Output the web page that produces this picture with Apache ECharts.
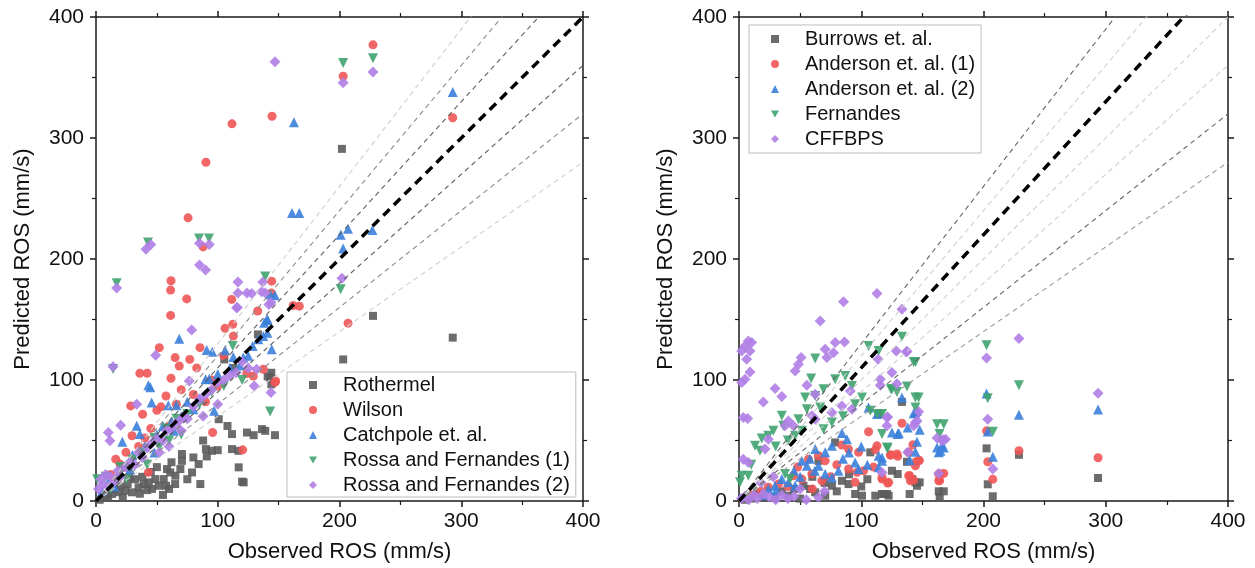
<!DOCTYPE html>
<html><head><meta charset="utf-8">
<script src="https://cdn.jsdelivr.net/npm/echarts@6/dist/echarts.min.js"></script>
<style>html,body{margin:0;padding:0;background:#fff}#c{width:1255px;height:568px}</style>
</head><body><div id="c"></div>
<script>
// ---------- data ----------
const axisTicks = [0, 100, 200, 300, 400];
const xTitle = 'Observed ROS (mm/s)';
const yTitle = 'Predicted ROS (mm/s)';

const leftNames = ['Rothermel', 'Wilson', 'Catchpole et. al.', 'Rossa and Fernandes (1)', 'Rossa and Fernandes (2)'];
const rightNames = ['Burrows et. al.', 'Anderson et. al. (1)', 'Anderson et. al. (2)', 'Fernandes', 'CFFBPS'];

const leftSlopes = [1.3, 1.2, 1.1, 0.9, 0.8, 0.7];
const leftSlopeColors = ['#cfcfcf', '#8a8a8a', '#5e5e5e', '#5e5e5e', '#8a8a8a', '#cfcfcf'];
const leftUnitSlope = 1.0;
const rightSlopes = [1.3, 1.2, 1.0, 0.9, 0.8, 0.7];
const rightSlopeColors = ['#666666', '#cfcfcf', '#cfcfcf', '#cfcfcf', '#666666', '#9a9a9a'];
const rightUnitSlope = 1.1;

const rothermel = [[202,291],[203,117],[227.5,153],[293,135],[144,106],[143,102],[144,96.5],[133,137.7],[105.4,117],[112.8,110],[141,103],[100.8,67.6],[111.7,55.3],[124,56.6],[129.5,54.4],[136.3,59.4],[139,58],[147,54.4],[111.7,42.9],[117,41.5],[90.3,42.9],[95.3,41.5],[91,36.8],[84.3,30.5],[78.9,23.6],[85.7,14],[70.6,38.8],[70.6,33.2],[69.3,26.4],[65.2,20.9],[61,23.6],[58.3,26.4],[55.6,18.1],[51.5,12.6],[57.5,12.6],[65,14],[48.7,18.1],[43.3,15.4],[39.2,14],[35,11.3],[29.6,7.2],[24,8.5],[18.6,7.2],[13.1,5.8],[7.6,3],[121.3,15.4],[117.2,27.8],[120,16],[3,1],[10,4],[15,10],[20,12],[26,14],[32,18],[38,20],[45,24],[50,28],[36,6],[42,9],[60,10],[75,18],[80,36],[88,50],[100,42],[108,62],[62,32],[55,5],[28,20],[22,3],[46,10]];
const wilson = [[144.6,318],[111.7,311.7],[90.3,280],[75.6,234],[88,210],[61.6,182],[144,172],[203,351],[227.5,377],[293,316.7],[207,147],[162,161.6],[167,161],[61.3,174.3],[74.5,167],[61.3,153.4],[111.5,166.6],[112.3,146],[106,142.7],[52,126.7],[65,118.5],[68.4,111.6],[77,117],[82.7,110],[85.4,126.7],[36,105.6],[42,105.6],[61.6,101.4],[57.5,86.8],[28.5,78.6],[53.4,77.8],[38.3,71.7],[112.8,136.3],[123.8,105.3],[129.2,103.3],[137.4,108.9],[147.6,99.2],[132.8,157],[144.3,181.7],[95.8,56.6],[120.5,42.3],[29.6,53.9],[24.6,40.2],[16.2,34.6],[19.7,30.5],[43,23.7],[147,98],[45,60],[50,75],[70,92],[80,88],[95,100],[100,95],[35,45],[40,52],[60,62],[25,28],[12,22],[66,80],[90,82],[105,120]];
const catchpole = [[162.6,313],[161,238],[167,238],[293,338],[201,220],[207,225],[227,224],[203,208.6],[68.4,134],[43,95.7],[44.6,94],[90.9,124.8],[95.5,123.4],[106,124.5],[112.8,119],[121,118.5],[128.7,128],[133.3,133.6],[137.4,136.3],[140.7,139],[140.2,149.5],[138.2,147.4],[144.3,125.4],[147,170],[90,100.6],[93,101],[97,74.5],[80,75.9],[66,79.2],[59.4,79.2],[45.7,81.4],[33.4,62.1],[21.6,48.9],[36,55.3],[141,150],[143,170.7],[10,15],[18,22],[25,30],[30,38],[40,45],[50,55],[55,62],[62,66],[70,70],[75,82],[85,85],[100,105],[110,110],[118,112],[125,120],[5,8],[15,12],[28,26],[48,40],[64,58]];
const rossa1 = [[17,180],[42.7,213.6],[84.6,217],[92.8,217],[139,185.5],[143,74],[203,362],[227.5,366],[201,175],[14,109],[112.3,128],[1,18],[8,20],[20,28],[30,34],[38,40],[48,52],[58,60],[66,68],[75,72],[85,80],[95,90],[105,95],[120,100],[60,50],[70,55],[42,30],[25,18],[12,10],[52,45]];
const rossa2 = [[147,363],[227.5,354.6],[203,345.6],[41,208],[45,212],[85,213],[93,212],[85,195],[90,191],[17,176],[116.6,172],[139,172],[116.6,181],[124,172],[128,171.5],[136,173],[137,181],[143.7,164],[116,160],[202,184],[78.6,141.3],[49,120.4],[115.5,159.7],[76.6,99.2],[33.4,80],[10.1,56.6],[11.5,49.7],[20.3,62.7],[143.7,89.6],[132,108.9],[142,162.5],[14,111],[2,10],[4,18],[6,14],[8,22],[10,12],[12,20],[15,16],[18,25],[20,20],[24,28],[28,32],[32,30],[35,40],[38,36],[42,44],[46,48],[50,52],[55,50],[58,58],[62,60],[65,64],[68,66],[72,70],[75,68],[80,78],[85,84],[90,88],[95,92],[100,98],[105,100],[110,104],[115,106],[120,115],[125,110],[130,95],[60,45],[52,40],[70,58],[88,70],[100,80]];

const burrows = [[202.5,43.5],[229,38.2],[293.7,19],[203.5,13.8],[207.6,3.9],[133.3,81.9],[137.4,32.4],[141.6,18.1],[144.3,15.4],[147.8,15.4],[145.6,12.6],[139.6,5.8],[118.3,5.8],[121,5.8],[125.1,25],[129.8,22.3],[163.4,8],[167.5,8],[164.2,3.1],[114.2,71.8],[107.4,40.2],[78.7,48.4],[65,33.2],[76,12.6],[84.2,16.7],[89.6,14],[95,5.8],[100.6,4.4],[111.5,4.4],[117,5.8],[122.4,4.4],[29.5,3],[40.4,4.4],[62.3,7.2],[70.5,4.4],[52.7,12.6],[58.2,9.9],[10,2],[20,3],[35,8],[45,10],[50,2],[80,8],[90,22],[100,12],[105,18],[60,20],[70,15],[15,6],[5,1]];
const anderson1 = [[202.5,58],[229,41.5],[203.5,32.4],[293.7,35.7],[207.6,17.9],[133.3,64.3],[124.3,38.2],[129.8,36.9],[142.3,46.5],[144.8,32.4],[147.5,33.6],[144.3,29.1],[164.8,22.3],[167.5,22.8],[164.2,16.8],[139.6,20.9],[142.9,17.3],[117,18.1],[121.6,14.8],[106,57.2],[112.9,45.6],[111.5,42.3],[129.3,38.8],[123.8,37.9],[138.8,40.2],[147,33.2],[84.2,46.2],[89.6,42.9],[97.8,40.2],[56.8,34.6],[65,37.4],[70.5,33.2],[44.5,20.9],[51.4,18.1],[59.6,22.3],[67.8,16.7],[89.6,26.4],[96.5,23.7],[101.9,25],[95,15.4],[117,19.5],[122.4,15.4],[138.8,20.9],[140.2,16.7],[163.4,22.3],[163.4,16.7],[24,11.3],[32.2,14],[10,5],[18,8],[40,12],[48,28],[75,20],[80,30],[60,10],[110,28]];
const anderson2 = [[202.5,88.8],[293.7,75.6],[203.5,57.5],[207.6,36.5],[229,71.2],[133.3,85.5],[142.9,72.6],[138,60.8],[147.8,58.8],[125.1,56.6],[129.8,55.3],[145.6,48.9],[144.3,40.7],[139.6,33.8],[162,44.3],[167.5,44.3],[163.4,40.2],[117,36],[106,77.3],[112.9,71.8],[130.7,56.1],[144.3,73.2],[145.6,74.5],[84.2,56.1],[88.3,51.1],[62.3,42.9],[70.5,40.2],[76,45.6],[51.4,33.2],[55.5,29.1],[114.2,37.4],[117,33.2],[65,29.1],[70.5,22.3],[76,19.5],[81.4,25],[35,18.1],[40.4,15.4],[45.9,12.6],[29.5,12.6],[24,9.9],[95,31.9],[97.8,26.4],[114.2,27.8],[166,45.6],[164.8,41.5],[50,20],[58,35],[62,25],[85,35],[90,40],[100,45],[105,30],[20,5],[30,8],[45,25]];
const fernandes = [[202.5,128.7],[203.5,85],[229,95.7],[207.6,57.2],[133.3,135.8],[142.9,114.9],[124.3,92.4],[129.2,90.1],[137.4,94.6],[147,85.5],[144.3,77.3],[117,71.8],[117,55.3],[121.6,43.5],[162,63.5],[167.5,63.5],[164,55.3],[62.3,117.7],[59,101.2],[54.1,85.5],[62.3,86.8],[35,70.4],[36.3,62.1],[78.7,100.6],[69.1,92.4],[86.9,103.3],[92.4,95.1],[106,128.1],[114.2,124],[144.3,114.9],[125.1,92.4],[100.6,85.5],[144.3,85.5],[107.4,74.5],[112.9,71.8],[121,44.3],[69.1,59.4],[76,64.9],[18.6,51.7],[24,53.9],[28.1,58],[13.1,45.6],[17.2,41.5],[7.6,20.9],[2.2,20.9],[0.8,15.4],[37.7,22.3],[41.8,18.1],[45.9,53.9],[51.4,58],[66.4,77.3],[55.5,75.9],[48.6,67.6],[30,45],[40,50],[10,30],[85,70],[95,80]];
const cffbps = [[202.5,118.2],[229,134.2],[293.7,89],[203.5,67.6],[207.6,26.4],[133.3,158.4],[137.4,123.7],[125.1,106.1],[129.2,97],[147,73.7],[145.6,66.2],[142.9,62.1],[121.6,69.5],[138,40.2],[162,52],[167,50.6],[163.4,22.8],[117,23.6],[115.6,100.6],[115.6,95.7],[112.9,171.5],[85.5,164.7],[66.4,148.7],[7.6,132.2],[10.4,130.9],[4.9,128.1],[2.2,124],[9,124],[6.3,117.1],[9,106.6],[4.9,100.6],[2.2,97.9],[3.5,69],[7.1,68.2],[86.3,131.4],[78.7,130.9],[70.5,125.4],[77.3,122.6],[71.9,118.5],[50.8,118.5],[48.6,113],[45.9,107.5],[55.5,95.7],[62.3,88.2],[29.5,92.9],[35,86.4],[19.9,81.9],[113.8,117.1],[128.7,124],[136.9,123.1],[91,91],[84.2,78.6],[92.4,75.9],[76,73.2],[59.6,70.4],[62.3,67.6],[40.4,66.2],[44.5,62.1],[37.7,62.1],[24,51],[21.3,42.9],[3.5,34.6],[7.6,31.9],[121,69],[121,62.1],[144.3,64.9],[168.9,51.1],[166.1,49.7],[2,2],[5,4],[8,1],[12,5],[15,2],[20,6],[25,3],[30,1],[35,5],[40,2],[45,4],[55,1],[65,3],[70,8],[50,10],[18,15],[28,20]];

// ---------- styling ----------
const FONT = 'Arial, "Liberation Sans", sans-serif';
const markerStyles = [
  {symbol: 'rect', size: 8, rotate: 0, color: '#5c5c5c', icon: 'rect'},
  {symbol: 'circle', size: 9, rotate: 0, color: '#F05656', icon: 'circle'},
  {symbol: 'triangle', size: 10, rotate: 0, color: '#3B7FDB', icon: 'triangle'},
  {symbol: 'triangle', size: 10, rotate: 180, color: '#3FA36F', icon: 'path://M0,0L10,0L5,9Z'},
  {symbol: 'diamond', size: 11, rotate: 0, color: '#B07EE6', icon: 'diamond'}
];
const leftData = [rothermel, wilson, catchpole, rossa1, rossa2];
const rightData = [burrows, anderson1, anderson2, fernandes, cffbps];

const AX = '#1a1a1a';
function xAx(gi, pos) {
  const main = pos === 'bottom';
  return {
    type: 'value', gridIndex: gi, position: pos, min: axisTicks[0], max: axisTicks[axisTicks.length - 1],
    interval: axisTicks[1] - axisTicks[0],
    name: main ? xTitle : '', nameLocation: 'middle', nameGap: 40,
    nameTextStyle: {fontFamily: FONT, fontSize: 22, color: '#111'},
    axisLine: {show: true, onZero: false, lineStyle: {color: AX, width: 1.5}},
    axisTick: {show: true, inside: false, length: 6, lineStyle: {color: AX, width: 1.5}},
    minorTick: {show: true, splitNumber: 2, length: 4, lineStyle: {color: AX, width: 1.2}},
    axisLabel: {show: main, fontFamily: FONT, fontSize: 21, color: '#111', margin: 10},
    splitLine: {show: false}
  };
}
function yAx(gi, pos) {
  const main = pos === 'left';
  return {
    type: 'value', gridIndex: gi, position: pos, min: axisTicks[0], max: axisTicks[axisTicks.length - 1],
    interval: axisTicks[1] - axisTicks[0],
    name: main ? yTitle : '', nameLocation: 'middle', nameGap: 62,
    nameTextStyle: {fontFamily: FONT, fontSize: 22, color: '#111'},
    axisLine: {show: true, onZero: false, lineStyle: {color: AX, width: 1.5}},
    axisTick: {show: true, inside: false, length: 6, lineStyle: {color: AX, width: 1.5}},
    minorTick: {show: true, splitNumber: 2, length: 4, lineStyle: {color: AX, width: 1.2}},
    axisLabel: {show: main, fontFamily: FONT, fontSize: 21, color: '#111', margin: 12},
    splitLine: {show: false}
  };
}

const series = [];
function addScatter(names, datas, xi, yi) {
  names.forEach((n, i) => {
    const m = markerStyles[i];
    series.push({
      name: n, type: 'scatter', xAxisIndex: xi, yAxisIndex: yi,
      symbol: m.symbol, symbolSize: m.size, symbolRotate: m.rotate,
      itemStyle: {color: m.color, opacity: 0.9},
      data: datas[i], z: 2 + i
    });
  });
}
function refLine(k, color, width, dash, xi, yi) {
  const xmax = axisTicks[axisTicks.length - 1];
  series.push({
    type: 'line', xAxisIndex: xi, yAxisIndex: yi, silent: true, symbol: 'none', clip: true,
    lineStyle: {color: color, width: width, type: dash},
    data: [[0, 0], [xmax, xmax * k]], z: 10
  });
}
addScatter(leftNames, leftData, 0, 0);
addScatter(rightNames, rightData, 2, 2);
leftSlopes.forEach((k, i) => refLine(k, leftSlopeColors[i], 1.1, [5, 4], 0, 0));
refLine(leftUnitSlope, '#000', 3.5, [9, 6], 0, 0);
rightSlopes.forEach((k, i) => refLine(k, rightSlopeColors[i], 1.1, [5, 4], 2, 2));
refLine(rightUnitSlope, '#000', 3.5, [9, 6], 2, 2);

function legend(names, left, top, pad) {
  return {
    data: names.map((n, i) => ({name: n, icon: markerStyles[i].icon})),
    orient: 'vertical', left: left, top: top,
    itemWidth: 8, itemHeight: 8, itemGap: 5, padding: pad,
    borderColor: '#bdbdbd', borderWidth: 1, backgroundColor: '#fff',
    textStyle: {fontFamily: FONT, fontSize: 20, color: '#111', lineHeight: 20, padding: [0, 0, 0, 21]},
    selectedMode: false
  };
}

const option = {
  animation: false,
  backgroundColor: '#fff',
  grid: [
    {left: 96, top: 17, width: 487, height: 485},
    {left: 739, top: 17, width: 489, height: 485}
  ],
  xAxis: [xAx(0, 'bottom'), xAx(0, 'top'), xAx(1, 'bottom'), xAx(1, 'top')],
  yAxis: [yAx(0, 'left'), yAx(0, 'right'), yAx(1, 'left'), yAx(1, 'right')],
  legend: [
    legend(leftNames, 287, 372, [3, 6, 2, 22]),
    legend(rightNames, 749, 25, [4, 6, 4, 22])
  ],
  series: series
};
const chart = echarts.init(document.getElementById('c'), null, {renderer: 'canvas'});
chart.setOption(option);
</script>
</body></html>
